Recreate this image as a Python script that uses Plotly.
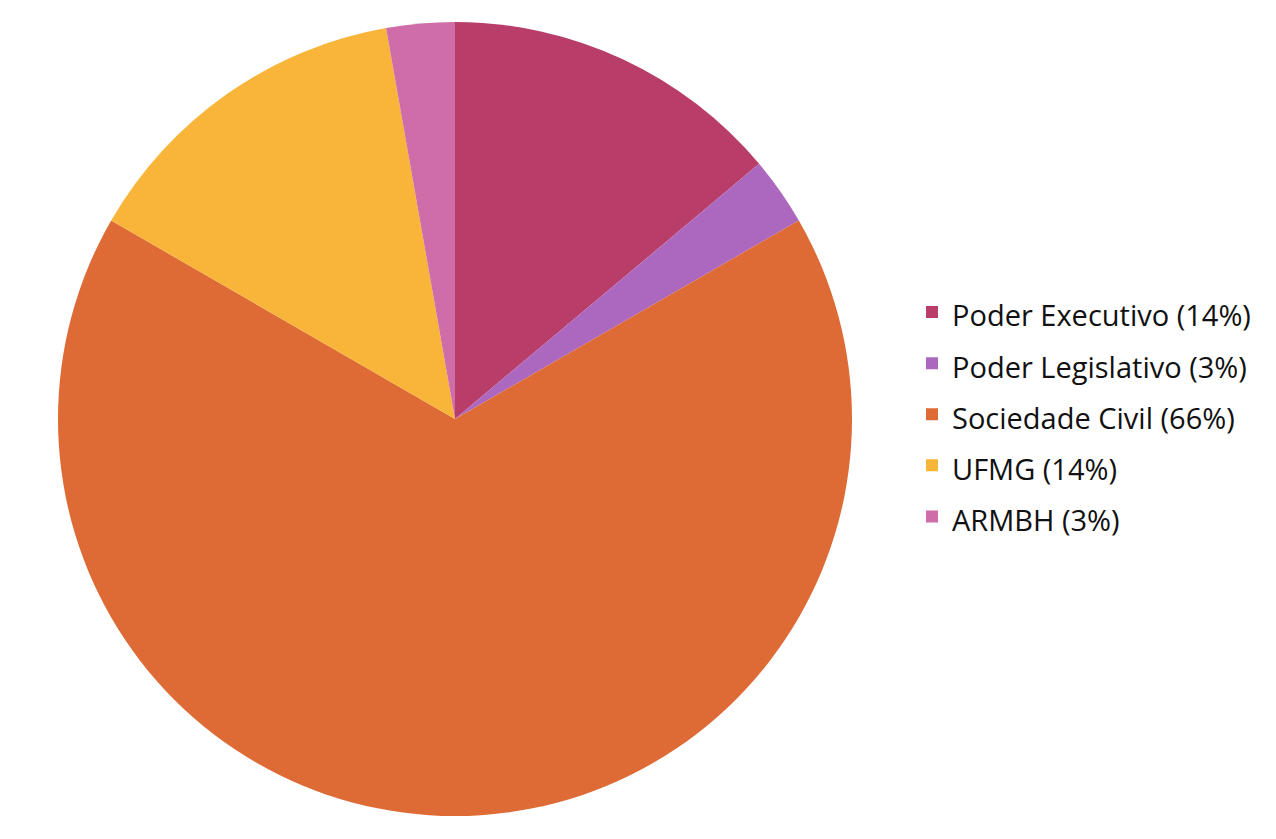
import plotly.graph_objects as go

labels = ["Poder Executivo (14%)", "Poder Legislativo (3%)", "Sociedade Civil (66%)", "UFMG (14%)", "ARMBH (3%)"]
values = [5, 1, 24, 5, 1]
colors = ["#B83D68", "#AC68BF", "#DE6B35", "#F8B53A", "#CE6DA7"]

W, H = 1276, 839

# legend text drawn a bit smaller than the legend font so that the rows are spaced out
legend_labels = [f"<span style='font-size:29px'>{t}</span>" for t in labels]

fig = go.Figure(go.Pie(
    labels=legend_labels,
    values=values,
    marker=dict(colors=colors, line=dict(width=0)),
    sort=False,
    direction="clockwise",
    rotation=0,
    textinfo="none",
    hoverinfo="label+percent",
    domain=dict(x=[50 / W, 844 / W], y=[1 - 809 / H, 1 - 13 / H]),
))

fig.update_layout(
    width=W, height=H,
    margin=dict(l=0, r=0, t=0, b=0),
    paper_bgcolor="white",
    plot_bgcolor="white",
    font=dict(family="Open Sans, Lato, sans-serif", color="#111111"),
    legend=dict(
        x=904 / W, xanchor="left",
        y=0.5 + 13 / H, yanchor="middle",
        font=dict(size=37, color="#111111", family="Open Sans, sans-serif"),
        itemwidth=30,
        bgcolor="rgba(0,0,0,0)",
    ),
    showlegend=True,
)

fig.write_html("out.html")
